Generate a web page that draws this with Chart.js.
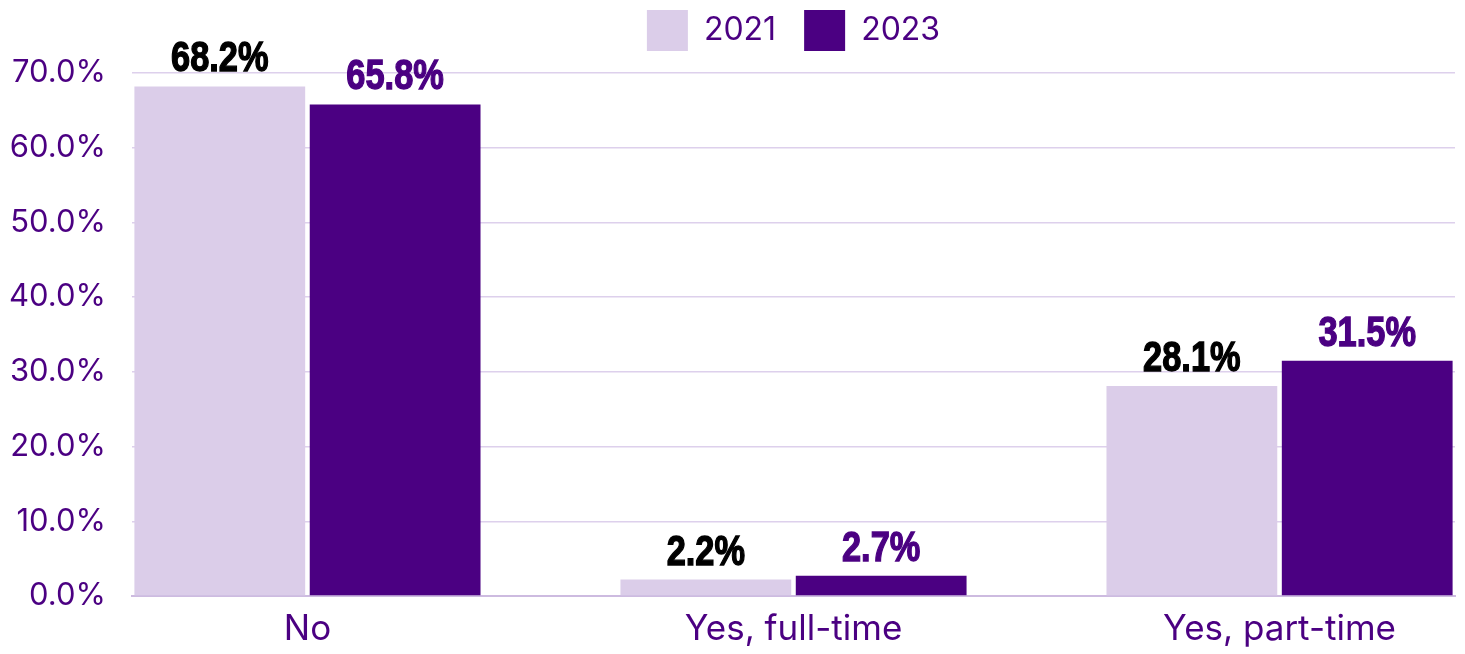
<!DOCTYPE html>
<html>
<head>
<meta charset="utf-8">
<script src="https://cdn.jsdelivr.net/npm/chart.js@4.4.1/dist/chart.umd.min.js"></script>
<style>
    body { margin: 0; background: #fff; }
    #wrap { width: 1465px; height: 654px; }
</style>
</head>
<body>
<div id="wrap"><canvas id="workChart" width="1465" height="654"></canvas></div>
<script>
const categories = ['No', 'Yes, full-time', 'Yes, part-time'];
const values2021 = [68.2, 2.2, 28.1];
const values2023 = [65.8, 2.7, 31.5];
const yTicks = [0, 10, 20, 30, 40, 50, 60, 70];

const PURPLE = '#4b0082';
const LAVENDER = '#dbcde9';
const TICK_FONT = 'Inter, sans-serif';

// bars sit at x = 0, 1, 2 on a linear axis so the outer groups touch the plot edges
const points = vals => vals.map((v, i) => ({ x: i, y: v }));

// value labels above each bar, squeezed horizontally for a condensed look
const barLabels = {
    id: 'barLabels',
    afterDatasetsDraw(chart) {
        const ctx = chart.ctx;
        chart.data.datasets.forEach((ds, di) => {
            chart.getDatasetMeta(di).data.forEach((bar, i) => {
                ctx.save();
                ctx.translate(bar.x, bar.y - 15);
                ctx.scale(0.8, 1);
                ctx.font = 'bold 43px "Liberation Sans", Arial, sans-serif';
                ctx.textAlign = 'center';
                ctx.textBaseline = 'alphabetic';
                ctx.fillStyle = ds.labelColor;
                ctx.strokeStyle = ds.labelColor;
                ctx.lineWidth = 1.4;
                const txt = ds.data[i].y.toFixed(1) + '%';
                ctx.fillText(txt, 0, 0);
                ctx.strokeText(txt, 0, 0);
                ctx.restore();
            });
        });
    }
};

// center the legend over the plot area and pull it up to the top edge
const legendSpacing = {
    id: 'legendSpacing',
    beforeInit(chart) {
        const fit = chart.legend.fit;
        chart.legend.fit = function () {
            fit.call(this);
            this.height -= 8;
        };
    },
    afterLayout(chart) {
        chart.legend.left = chart.chartArea.left;
        chart.legend.right = chart.chartArea.right;
        chart.legend.top -= 20;
    }
};

const ctxWork = document.getElementById('workChart').getContext('2d');
const workChart = new Chart(ctxWork, {
    type: 'bar',
    data: {
        datasets: [{
            label: '2021',
            data: points(values2021),
            backgroundColor: LAVENDER,
            labelColor: '#000000'
        }, {
            label: '2023',
            data: points(values2023),
            backgroundColor: PURPLE,
            labelColor: PURPLE
        }]
    },
    options: {
        responsive: false,
        animation: false,
        categoryPercentage: 0.7215,
        barPercentage: 0.974,
        layout: { padding: { left: 10, right: 10, top: 2, bottom: -8 } },
        plugins: {
            legend: {
                position: 'top',
                labels: {
                    boxWidth: 41,
                    boxHeight: 41,
                    padding: 28,
                    color: PURPLE,
                    font: { family: TICK_FONT, size: 32 }
                }
            },
            tooltip: { enabled: false }
        },
        scales: {
            x: {
                type: 'linear',
                offset: false,
                min: -0.361,
                max: 2.361,
                afterBuildTicks: scale => {
                    scale.ticks = categories.map((c, i) => ({ value: i }));
                },
                ticks: {
                    color: PURPLE,
                    padding: 12,
                    font: { family: TICK_FONT, size: 35 },
                    callback: v => categories[v]
                },
                grid: { display: false, drawTicks: false },
                border: { display: true, color: '#cdbbe0', width: 2 }
            },
            y: {
                min: 0,
                max: 70,
                afterBuildTicks: scale => {
                    scale.ticks = yTicks.map(v => ({ value: v }));
                },
                afterFit: scale => { scale.width = 122; },
                ticks: {
                    color: PURPLE,
                    padding: 26,
                    font: { family: TICK_FONT, size: 31 },
                    callback: v => v.toFixed(1) + '%'
                },
                grid: { color: '#ddd0ec', lineWidth: 1.5, drawTicks: false },
                border: { display: false }
            }
        }
    },
    plugins: [barLabels, legendSpacing]
});
</script>
</body>
</html>
